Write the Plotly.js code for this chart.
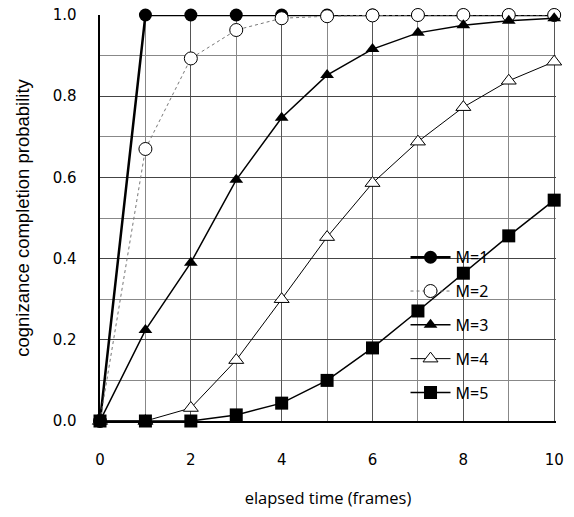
<!DOCTYPE html>
<html>
<head>
<meta charset="utf-8">
<script src="https://cdn.plot.ly/plotly-3.0.1.min.js"></script>
<style>html,body{margin:0;padding:0;background:#fff}#chart{width:574px;height:517px}</style>
</head>
<body>
<div id="chart"></div>
<script>
var t = [0,1,2,3,4,5,6,7,8,9,10];
var m1 = [0,1,1,1,1,1,1,1,1,1,1];
var m2 = [0,0.67,0.893,0.963,0.992,0.997,0.999,1,1,1,1];
var m3 = [0,0.224,0.39,0.594,0.747,0.852,0.916,0.956,0.975,0.986,0.992];
var m4 = [0,0,0.032,0.15,0.3,0.453,0.586,0.688,0.773,0.838,0.885];
var m5 = [0,0,0,0.015,0.044,0.1,0.18,0.271,0.364,0.456,0.544];
var names = ['M=1','M=2','M=3','M=4','M=5'];

var traces = [
  {x:t, y:m1, name:names[0], mode:'lines+markers', legendgroup:'a',
   line:{color:'#000', width:2.5},
   marker:{symbol:'circle', size:13, color:'#000'}},
  {x:t, y:m2, name:names[1], mode:'lines+markers', legendgroup:'b',
   line:{color:'#777', width:1, dash:'dot'},
   marker:{symbol:'circle', size:13, color:'#fff', line:{color:'#000', width:1}}},
  {x:t, y:m3, name:names[2], mode:'lines+markers', legendgroup:'c',
   line:{color:'#000', width:1.5},
   marker:{symbol:'triangle-up', size:12, color:'#000'}},
  {x:t, y:m4, name:names[3], mode:'lines+markers', legendgroup:'d',
   line:{color:'#000', width:1},
   marker:{symbol:'triangle-up', size:13, color:'#fff', line:{color:'#000', width:1}}},
  {x:t, y:m5, name:names[4], mode:'lines+markers', legendgroup:'e',
   line:{color:'#000', width:1.5},
   marker:{symbol:'square', size:13, color:'#000'}}
];
traces.forEach(function(tr){ tr.cliponaxis = false; });

var layout = {
  width:574, height:517,
  margin:{l:100, r:18, t:15, b:96},
  paper_bgcolor:'#fff', plot_bgcolor:'#fff',
  font:{family:'Noto Sans, sans-serif', color:'#000'},
  showlegend:true,
  legend:{x:0.67, y:0.445, xanchor:'left', yanchor:'top', bgcolor:'rgba(0,0,0,0)',
          font:{size:16, family:'Noto Sans, sans-serif'}, itemwidth:40, tracegroupgap:10},
  xaxis:{range:[0,10.04], dtick:2, tick0:0, showgrid:true, gridcolor:'#555', gridwidth:1,
         minor:{dtick:1, showgrid:true, gridcolor:'#888', gridwidth:1},
         zeroline:false, showline:true, linecolor:'#000', linewidth:2,
         ticks:'', ticklabelstandoff:24, tickfont:{size:15, family:'DejaVu Sans, sans-serif'},
         title:{text:'elapsed time (frames)', font:{size:16.5, family:'Open Sans, sans-serif'}, standoff:24}},
  yaxis:{range:[0,1.0], dtick:0.2, tick0:0, tickformat:'.1f', showgrid:true, gridcolor:'#444', gridwidth:1,
         minor:{dtick:0.1, showgrid:true, gridcolor:'#888', gridwidth:1},
         zeroline:false, showline:true, linecolor:'#000', linewidth:2.5,
         ticks:'', ticklabelstandoff:18, tickfont:{size:15, family:'DejaVu Sans, sans-serif'},
         title:{text:'cognizance completion probability', font:{size:18.5, family:'Liberation Sans, sans-serif'}, standoff:18}}
};
Plotly.newPlot('chart', traces, layout, {displayModeBar:false, staticPlot:true});
</script>
</body>
</html>
